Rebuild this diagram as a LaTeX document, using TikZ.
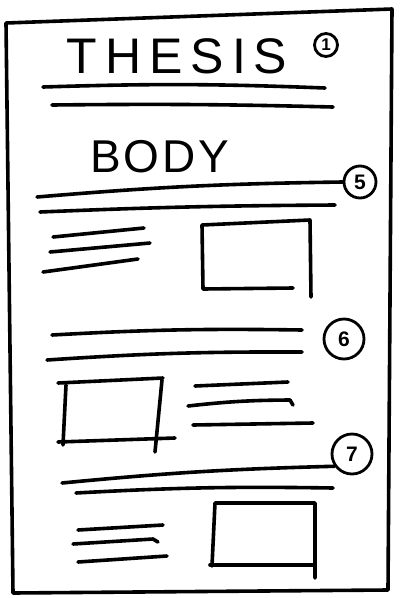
\documentclass[tikz,border=0pt]{standalone}
\usepackage{fontspec}
\setmainfont{Liberation Sans}
\begin{document}
\begin{tikzpicture}[x=1pt,y=-1pt,
  ink/.style={line width=3.6pt, line cap=round, line join=round, black},
  num/.style={circle, draw, line width=2.8pt, inner sep=0pt, minimum size=#1, font=\fontsize{21}{21}\selectfont\bfseries},
  title/.style={inner sep=0pt, anchor=center}]
\useasboundingbox (0,0) rectangle (401,598);
% frame
\draw[ink] (6,23) -- (392,9) -- (388,590) -- (13,593) -- cycle;
% title
\node[title, font=\fontsize{50}{50}\selectfont] (thesis) at (177,56) {T\kern8pt H\kern8pt E\kern8pt S\kern8pt I\kern8pt S};
\node[num=23pt, font=\fontsize{17}{17}\selectfont\bfseries] (n1) at (326,45) {1};
\draw[ink] (43,87) to[bend left=2] (325,88);
\draw[ink] (52,105) to[bend left=1] (333,107);
% body
\node[title, font=\fontsize{46}{46}\selectfont] (body) at (160,157) {B\kern3pt O\kern3pt D\kern3pt Y};
\node[num=32pt] (n5) at (360,182) {5};
\draw[ink] (37,197) to[bend left=2] (n5.west);
\draw[ink] (40,212) to[bend left=1] (335,205);
% section 5 content
\draw[ink] (53,237) -- (144,228);
\draw[ink] (50,252) -- (150,243);
\draw[ink] (43,272) -- (138,259);
\draw[ink] (293,288) -- (203,289) -- (202,225) -- (310,220) -- (311,297);
% section 6
\node[num=40pt] (n6) at (344,339) {6};
\draw[ink] (52,335) to[bend left=2] (302,330);
\draw[ink] (47,360) to[bend left=2] (302,352);
\draw[ink] (58,383) -- (163,378);
\draw[ink] (66,385) -- (63,445);
\draw[ink] (58,442) -- (175,438);
\draw[ink] (162,380) -- (155,452);
\draw[ink] (195,386) -- (288,382);
\draw[ink] (188,406) to[bend left=3] (290,400) -- (293,405);
\draw[ink] (193,425) -- (313,423);
% section 7
\node[num=40pt] (n7) at (352,454) {7};
\draw[ink] (62,483) to[bend left=2] (n7.215);
\draw[ink] (76,493) to[bend left=2] (333,488);
\draw[ink] (78,530) -- (163,525);
\draw[ink] (73,544) -- (153,539) -- (158,542);
\draw[ink] (78,562) -- (167,556);
\draw[ink] (210,565) -- (315,565);
\draw[ink] (212,566) -- (215,503) -- (315,503) -- (315,578);
\end{tikzpicture}
\end{document}
